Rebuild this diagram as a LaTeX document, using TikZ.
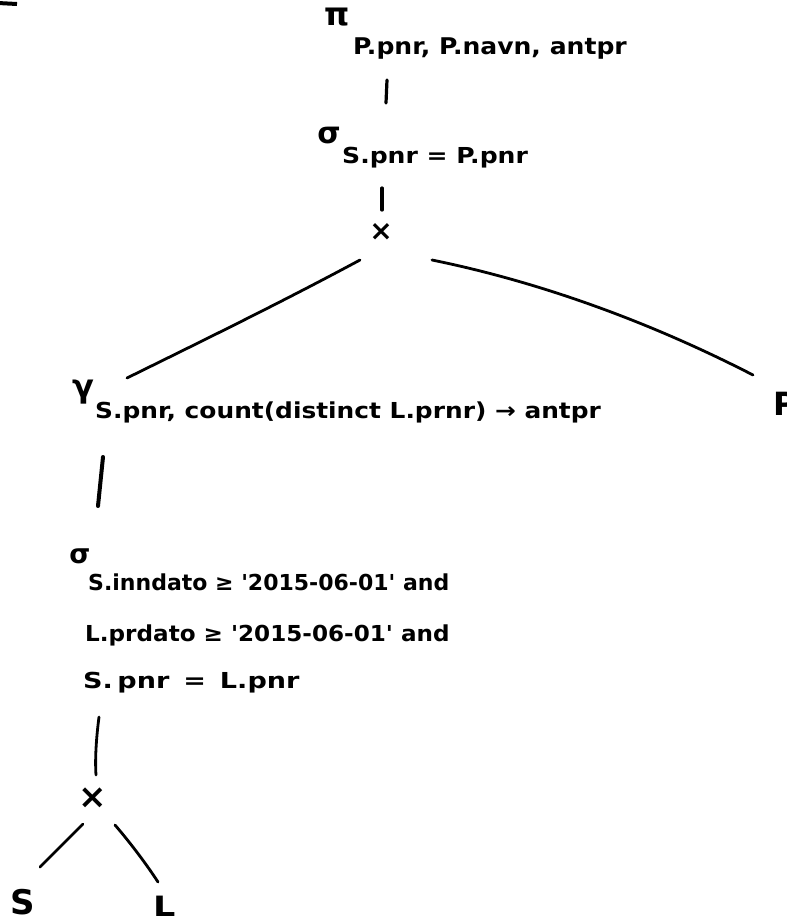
\documentclass[tikz,border=0pt]{standalone}
\usepackage{fontspec}
\usepackage{graphicx}
\newfontfamily\handfont{DejaVu Sans}
% horizontally stretched text, for the wide handwriting
\newcommand\wide[2]{\scalebox{#1}[1]{#2}}
\tikzset{
  txt/.style={font=\handfont\bfseries\fontsize{#1}{#1}\selectfont, inner sep=0pt, anchor=base west},
  txt/.default=22,
  sym/.style={font=\handfont\bfseries\fontsize{#1}{#1}\selectfont, inner sep=0pt},
  edge/.style={line width=2.8pt, line cap=round},
  stem/.style={line width=3.2pt, line cap=round},
}
\begin{document}
\begin{tikzpicture}[x=1pt,y=-1pt]
\fill[white] (0,0) rectangle (787,922);
\useasboundingbox (0,0) rectangle (787,922);

% stray pen stroke in the corner
\coordinate (penA) at (-2,3);
\coordinate (penB) at (17,4);
\draw[line width=4pt] (penA) -- (penB);

% projection
\node[sym=32] (pi) at (337,17) {π};
\node[txt=23] (piSub) at (353,54) {\wide{1.09}{P.pnr, P.navn, antpr}};

% selection on the join key
\node[sym=30] (sel1) at (329,136) {σ};
\node[txt] (sel1Sub) at (342,163) {\wide{1.14}{S.pnr = P.pnr}};

% upper cross product
\node[sym=28] (prod1) at (381,232) {×};

% grouping
\node[sym=32] (gam) at (83,392) {γ};
\node[txt] (gamSub) at (95,418) {\wide{1.13}{S.pnr, count(distinct L.prnr) → antpr}};

% relation P
\node[sym=32, anchor=base west] (relP) at (773,415) {P};

% selection with the date conditions
\node[sym=27] (sel2) at (80,556) {σ};
\node[txt] (condA) at (88,590) {\wide{1.0}{S.inndato ≥ \textquotesingle 2015-06-01\textquotesingle\ and}};
\node[txt] (condB) at (85,641) {\wide{1.05}{L.prdato ≥ \textquotesingle 2015-06-01\textquotesingle\ and}};
\node[txt] (condC) at (83,688) {\wide{1.23}{S.\,pnr \,=\, L.pnr}};

% lower cross product and its relations
\node[sym=34] (prod2) at (93,798) {×};
\node[sym=34, anchor=base west] (relS) at (10,914) {S};
\node[sym=28, anchor=base west] (relL) at (153,916) {\wide{1.25}{L}};

% connector end points
\coordinate (piB) at (387,80);   \coordinate (selT) at (386,103);
\coordinate (selB) at (382,188); \coordinate (prT) at (382,210);
\coordinate (prL) at (360,260);  \coordinate (gamT) at (127,378);
\coordinate (prR) at (432,260);  \coordinate (pT) at (753,375);
\coordinate (gamB) at (103,457); \coordinate (sigT) at (98,506);
\coordinate (sigB) at (99,717);  \coordinate (pr2T) at (96,775);
\coordinate (pr2L) at (83,824);  \coordinate (sT) at (40,867);
\coordinate (pr2R) at (115,825); \coordinate (lT) at (158,882);

\draw[stem] (piB) -- (selT);
\draw[stem] (selB) -- (prT);
\draw[edge] (prL) .. controls (280,303) and (200,342) .. (gamT);
\draw[edge] (prR) .. controls (540,282) and (650,322) .. (pT);
\draw[stem, line width=4pt] (gamB) -- (sigT);
\draw[edge] (sigB) .. controls (96,740) and (95,760) .. (pr2T);
\draw[edge] (pr2L) -- (sT);
\draw[edge] (pr2R) .. controls (128,840) and (145,862) .. (lT);
\end{tikzpicture}
\end{document}
